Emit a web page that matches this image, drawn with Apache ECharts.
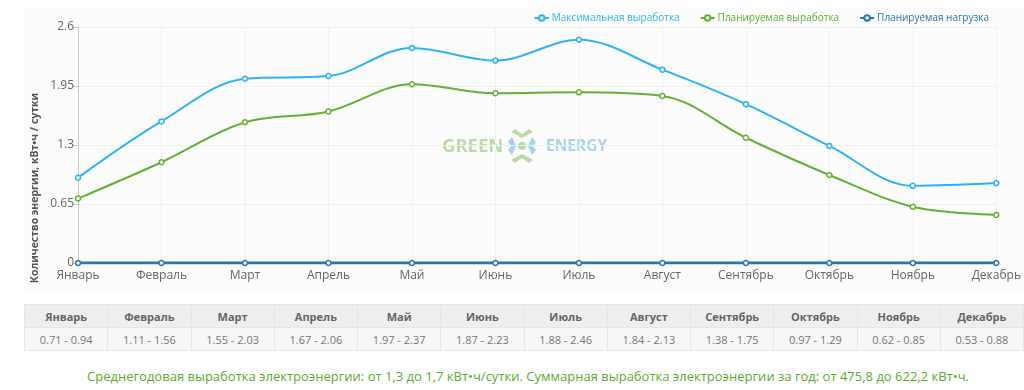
<!DOCTYPE html>
<html>
<head>
<meta charset="utf-8">
<script src="https://cdn.jsdelivr.net/npm/echarts@6/dist/echarts.min.js"></script>
<style>
html,body{margin:0;padding:0;background:#fff;font-family:"Open Sans",sans-serif;}
#chart{position:absolute;left:0;top:0;width:1024px;height:290px;}
#tbl{position:absolute;left:24px;top:304px;width:1000px;border-collapse:collapse;font-size:11px;table-layout:fixed;}
#tbl td{border:1px solid #e6e6e6;text-align:center;height:22px;padding:0;color:#777;}
#tbl tr.h td{background:#eeeeee;font-weight:bold;color:#666;}
#tbl tr.d td{background:#f7f7f7;}
#note{position:absolute;left:16px;top:367px;width:1024px;text-align:center;color:#5cab30;font-size:13px;letter-spacing:0px;font-family:"Open Sans",sans-serif;}
</style>
</head>
<body>
<div id="chart"></div>
<table id="tbl"><tr class="h" id="hrow"></tr><tr class="d" id="drow"></tr></table>
<div id="note"></div>
<script>
const months = ["Январь","Февраль","Март","Апрель","Май","Июнь","Июль","Август","Сентябрь","Октябрь","Ноябрь","Декабрь"];
const maxOutput = [0.94,1.56,2.03,2.06,2.37,2.23,2.46,2.13,1.75,1.29,0.85,0.88];
const plannedOutput = [0.71,1.11,1.55,1.67,1.97,1.87,1.88,1.84,1.38,0.97,0.62,0.53];
const plannedLoad = [0,0,0,0,0,0,0,0,0,0,0,0];
const yTicks = [0,0.65,1.3,1.95,2.6];
const seriesNames = ["Максимальная выработка","Планируемая выработка","Планируемая нагрузка"];
const yAxisTitle = "Количество энергии, кВт•ч / сутки";
const noteText = "Среднегодовая выработка электроэнергии: от 1,3 до 1,7 кВт•ч/сутки. Суммарная выработка электроэнергии за год: от 475,8 до 622,2 кВт•ч.";

const colors = ["#2db3f5","#62b136","#2a76ad"];

// table
const hrow = document.getElementById('hrow'), drow = document.getElementById('drow');
months.forEach((m,i)=>{
  const a=document.createElement('td'); a.textContent=m; hrow.appendChild(a);
  const b=document.createElement('td'); b.textContent=plannedOutput[i].toFixed(2)+' - '+maxOutput[i].toFixed(2); drow.appendChild(b);
});
document.getElementById('note').textContent = noteText;

const chart = echarts.init(document.getElementById('chart'), null, {renderer:'canvas'});
const font = '"Open Sans", sans-serif';
function mk(name, data, color, width){
  return {name, type:'line', data, smooth:0.35, symbol:'circle', symbolSize:5,
    lineStyle:{color, width}, itemStyle:{color:'#fff', borderColor:color, borderWidth:1.5},
    emphasis:{disabled:true}};
}
chart.setOption({
  animation:false,
  textStyle:{fontFamily:font},
  grid:{left:78,right:24,top:27,bottom:27},
  graphic:[
    {type:'rect', z:-10, shape:{x:24,y:8,width:1000,height:282}, style:{fill:'#fcfcfc'}},
    {type:'text', z:10, x:35, y:188, rotation:Math.PI/2,
      style:{text:yAxisTitle, fill:'#555', font:'bold 10.5px "Open Sans", sans-serif', align:'center', verticalAlign:'middle'}},
    {type:'text', z:-5, x:442, y:137, style:{text:'GREEN', fill:'#b9dba8', font:'bold 18.5px "Open Sans", sans-serif'}},
    {type:'text', z:-5, x:546, y:139, style:{text:'ENERGY', fill:'#a9d3ec', font:'bold 15.5px "Open Sans", sans-serif'}},
    {type:'group', z:-5, x:522, y:146, children:[
      {type:'polygon', shape:{points:[[-11,-14],[0,-8],[11,-14],[7,-17],[0,-12],[-7,-17]]}, style:{fill:'#b9dba8'}},
      {type:'polygon', shape:{points:[[-11,14],[0,8],[11,14],[7,17],[0,12],[-7,17]]}, style:{fill:'#b9dba8'}},
      {type:'polygon', shape:{points:[[-10,-9],[-6,0],[-10,9],[-14,4],[-11,0],[-14,-4]]}, style:{fill:'#a9d3ec'}},
      {type:'polygon', shape:{points:[[10,-9],[6,0],[10,9],[14,4],[11,0],[14,-4]]}, style:{fill:'#a9d3ec'}},
      {type:'circle', shape:{cx:0,cy:0,r:4}, style:{fill:'#b9dba8'}}
    ]}
  ],
  legend:{
    top:8, right:30, itemGap:20, itemWidth:14, itemHeight:7,
    data:[
      {name:seriesNames[0], textStyle:{color:colors[0]}},
      {name:seriesNames[1], textStyle:{color:colors[1]}},
      {name:seriesNames[2], textStyle:{color:colors[2]}}
    ],
    textStyle:{fontSize:10, fontFamily:font, padding:[0,0,0,-2]}
  },
  xAxis:{
    type:'category', data:months, boundaryGap:false,
    axisLine:{show:false}, axisTick:{show:false},
    axisLabel:{color:'#666', fontSize:12, margin:7, interval:0, fontFamily:font},
    splitLine:{show:true, lineStyle:{color:'#f0f0f0'}}
  },
  yAxis:{
    type:'value', min:0, max:2.6, interval:0.65,
    axisLine:{show:true, lineStyle:{color:'#ccc'}},
    axisTick:{show:true, length:5, lineStyle:{color:'#ccc'}},
    axisLabel:{color:'#666', fontSize:12, margin:4, fontFamily:font, formatter:v=>String(+v.toFixed(2))},
    splitLine:{lineStyle:{color:'#f0f0f0'}}
  },
  series:[
    mk(seriesNames[0], maxOutput, colors[0], 2),
    mk(seriesNames[1], plannedOutput, colors[1], 2),
    mk(seriesNames[2], plannedLoad, colors[2], 3)
  ]
});
</script>
</body>
</html>
